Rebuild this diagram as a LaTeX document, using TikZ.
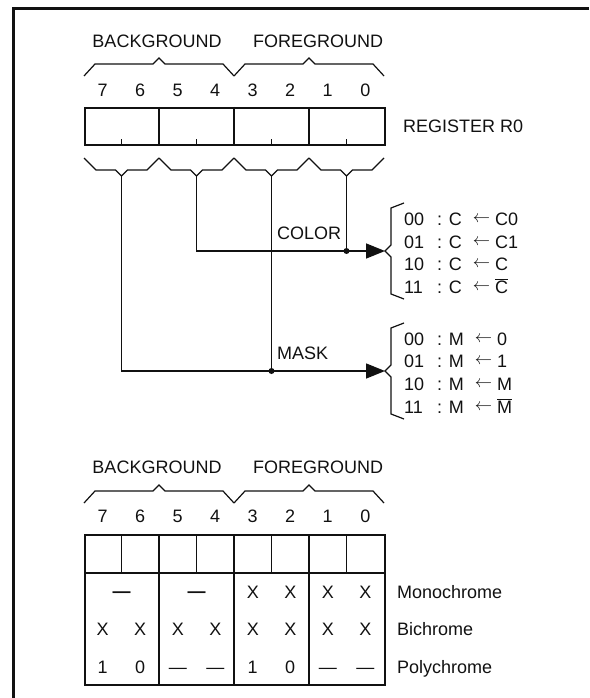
\documentclass[tikz,border=0pt]{standalone}
\usepackage{fontspec}
\setmainfont{Liberation Sans}
\usetikzlibrary{arrows.meta,positioning}
\definecolor{ink}{HTML}{111111}

% brace over a group of bits: left x, right x, y of the ends
\newcommand{\overbrc}[3]{%
  \draw[brc] (#1,#3) -- ({#1+11},{#3-12}) -- ({(#1+#2)/2-6},{#3-12})
    -- ({(#1+#2)/2},{#3-18}) -- ({(#1+#2)/2+6},{#3-12}) -- ({#2-11},{#3-12}) -- (#2,#3);}
% brace under a pair of bits, its tip is named
\newcommand{\underbrc}[4]{%
  \draw[brc] (#1,#3) -- ({#1+12},{#3+12}) -- ({(#1+#2)/2-6},{#3+12})
    -- ({(#1+#2)/2},{#3+18}) coordinate (#4) -- ({(#1+#2)/2+6},{#3+12}) -- ({#2-12},{#3+12}) -- (#2,#3);}
% curly brace opening to the right, its cusp is named
\newcommand{\rightbrc}[4]{%
  \draw[brc] ({#1+13},#2) -- (#1,{#2+5}) -- (#1,{(#2+#3)/2-6}) -- ({#1-6},{(#2+#3)/2}) coordinate (#4)
    -- (#1,{(#2+#3)/2+6}) -- (#1,{#3-5}) -- ({#1+13},#3);}
% one line of a mode list
\newcommand{\opt}[3]{\makebox[33pt][l]{#1}: #2\hspace{11pt}\raisebox{3pt}{$\leftarrow$}\hspace{5pt}#3}

\begin{document}
\begin{tikzpicture}[x=1pt,y=-1pt,color=ink,
  txt/.style={font=\fontsize{18}{21}\selectfont,inner sep=0pt,anchor=base},
  brc/.style={line width=1.2pt,line join=miter},
  wire/.style={line width=1.5pt},
  edgeline/.style={line width=3pt},
  cell/.style={line width=1.2pt},
  bold/.style={line width=2pt},
  jdot/.style={circle,fill,inner sep=0pt,minimum size=6pt},
  tip/.style={-{Triangle[length=19pt,width=15pt]}}]

\useasboundingbox (0,0) rectangle (589,698);
\draw[edgeline] (589,8.5) -- (13.8,8.5) -- (13.8,698);

% register R0
\node[txt] (bgtop) at (157,47.5) {BACKGROUND};
\node[txt] (fgtop) at (318,47.5) {FOREGROUND};
\overbrc{84}{234}{76}
\overbrc{234}{384}{76}
\foreach \b [count=\i from 0] in {7,6,...,0}
  \node[txt] (ta\b) at ({102.75+37.5*\i},96.5) {\b};
\node[draw,bold,minimum width=300pt,minimum height=37pt,inner sep=0pt,anchor=north west] (reg) at (84,107) {};
\draw[cell] (159,107) -- (159,144) (309,107) -- (309,144);
\draw[bold] (234,107) -- (234,144);
\foreach \x in {121.5,196.5,271.5,346.5}
  \draw[cell] (\x,144) -- (\x,139);
\node[txt,anchor=base west] (regname) at (403,132.5) {REGISTER R0};

\underbrc{84}{159}{158}{p76}
\underbrc{159}{234}{158}{p54}
\underbrc{234}{309}{158}{p32}
\underbrc{309}{384}{158}{p10}

% color and mask selection
\rightbrc{391}{203}{299}{cb}
\rightbrc{391}{323}{419}{mb}
\draw[wire,tip] (p54) |- (cb);
\draw[wire,tip] (p76) |- (mb);
\node[jdot] (j10) at (p10 |- cb) {};
\node[jdot] (j32) at (p32 |- mb) {};
\draw[wire] (p10) -- (j10.center);
\draw[wire] (p32) -- (j32.center);
\node[txt,anchor=base west] (colorlbl) at (277,239) {COLOR};
\node[txt,anchor=base west] (masklbl) at (277,359) {MASK};

\foreach \k/\v [count=\i from 0] in {00/C0,01/C1,10/C,11/{$\overline{\mbox{C}}$}}
  \node[txt,anchor=base west] (cop\i) at (404,{225.5+22.7*\i}) {\opt{\k}{C}{\v}};
\foreach \k/\v [count=\i from 0] in {00/0,01/1,10/M,11/{$\overline{\mbox{M}}$}}
  \node[txt,anchor=base west] (mop\i) at (404,{345+22.7*\i}) {\opt{\k}{M}{\v}};

% display modes
\node[txt] (bgbot) at (157,473.5) {BACKGROUND};
\node[txt] (fgbot) at (318,473.5) {FOREGROUND};
\overbrc{84}{234}{503}
\overbrc{234}{384}{503}
\foreach \b [count=\i from 0] in {7,6,...,0}
  \node[txt] (tb\b) at ({102.75+37.5*\i},522.5) {\b};
\node[draw,bold,minimum width=300pt,minimum height=150pt,inner sep=0pt,anchor=north west] (tab) at (84,534) {};
\draw[cell] (84,573) -- (384,573);
\foreach \x in {121.5,196.5,271.5,346.5}
  \draw[cell] (\x,534) -- (\x,573);
\draw[cell] (159,534) -- (159,684) (309,534) -- (309,684);
\draw[bold] (234,534) -- (234,684);

\node[txt] (mono1) at (121.5,597) {\textbf{\textemdash}};
\node[txt] (mono2) at (196.5,597) {\textbf{\textemdash}};
\foreach \i in {4,...,7}
  \node[txt] (mx\i) at ({102.75+37.5*\i},598.5) {X};
\foreach \s [count=\i from 0] in {X,X,X,X,X,X,X,X}
  \node[txt] (bx\i) at ({102.75+37.5*\i},635.5) {\s};
\foreach \s [count=\i from 0] in {1,0,\textemdash,\textemdash,1,0,\textemdash,\textemdash}
  \node[txt] (px\i) at ({102.75+37.5*\i},673.5) {\s};

\node[txt,anchor=base west] (monolbl) at (397,598.5) {Monochrome};
\node[txt,anchor=base west] (bilbl) at (397,635.5) {Bichrome};
\node[txt,anchor=base west] (polylbl) at (397,673.5) {Polychrome};
\end{tikzpicture}
\end{document}
